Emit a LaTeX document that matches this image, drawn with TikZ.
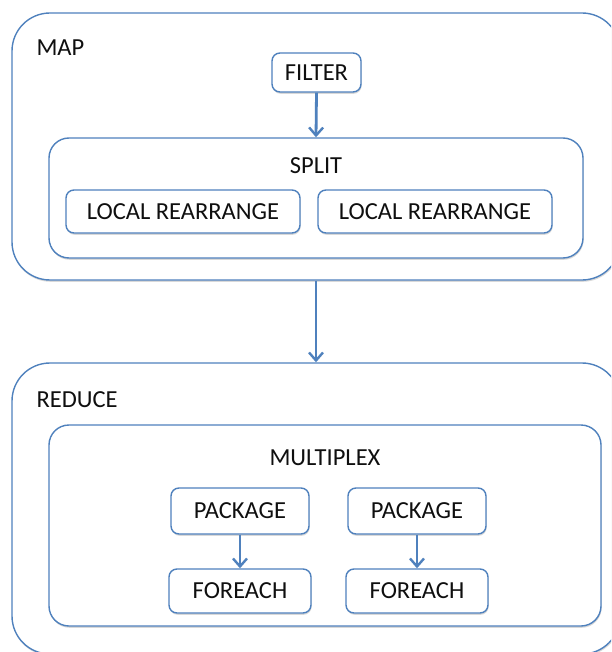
\documentclass[tikz,border=0pt]{standalone}
\usepackage{fontspec}
\setmainfont{Carlito}
\usetikzlibrary{arrows.meta,shadows}
\definecolor{boxblue}{RGB}{79,129,189}
\definecolor{txtgray}{RGB}{15,15,15}
\tikzset{
  blk/.style={draw=boxblue, line width=1.4pt, fill=white, rounded corners=#1, inner sep=0pt,
    drop shadow={shadow xshift=0.6pt, shadow yshift=-1.8pt, opacity=0.3}},
  blk/.default=8pt,
  lbl/.style={text=txtgray, font=\fontsize{24.5}{28}\selectfont},
  flow/.style={draw=boxblue, line width=2.8pt, -{Straight Barb[length=8pt,width=14pt,line width=2.4pt]}}
}
\begin{document}
\begin{tikzpicture}[x=1pt,y=-1pt]
\useasboundingbox (0,0) rectangle (611,652);
\clip (0,0) rectangle (611,652);

% map stage
\node[blk=38pt, minimum width=608pt, minimum height=267pt] (map) at (316,146.5) {};
\node[lbl, anchor=west] (maplbl) at (33,48) {MAP};
\node[blk, lbl, minimum width=89pt, minimum height=39pt] (filter) at (316.5,72.5) {FILTER};
\node[blk=20pt, minimum width=534pt, minimum height=120pt] (split) at (316,198) {};
\node[lbl] (splitlbl) at (316,166) {SPLIT};
\node[blk, lbl, minimum width=234pt, minimum height=43pt] (lr1) at (183,211.5) {LOCAL REARRANGE};
\node[blk, lbl, minimum width=234pt, minimum height=43pt] (lr2) at (435,211.5) {LOCAL REARRANGE};
\draw[flow] (filter.south) -- (split.north);

% reduce stage
\node[blk=38pt, minimum width=608pt, minimum height=291pt] (reduce) at (316,508.5) {};
\node[lbl, anchor=west] (reducelbl) at (33,400) {REDUCE};
\node[blk=20pt, minimum width=552pt, minimum height=201pt] (mux) at (325,525.5) {};
\node[lbl] (muxlbl) at (325,458) {MULTIPLEX};
\node[blk, lbl, minimum width=138pt, minimum height=46pt] (pkg1) at (240,511) {PACKAGE};
\node[blk, lbl, minimum width=138pt, minimum height=46pt] (pkg2) at (417,511) {PACKAGE};
\node[blk, lbl, minimum width=142pt, minimum height=44pt] (fe1) at (240,591) {FOREACH};
\node[blk, lbl, minimum width=142pt, minimum height=44pt] (fe2) at (417,591) {FOREACH};
\draw[flow] (pkg1.south) -- (fe1.north);
\draw[flow] (pkg2.south) -- (fe2.north);

\draw[flow] (map.south) -- (reduce.north); %between stages
\end{tikzpicture}
\end{document}
